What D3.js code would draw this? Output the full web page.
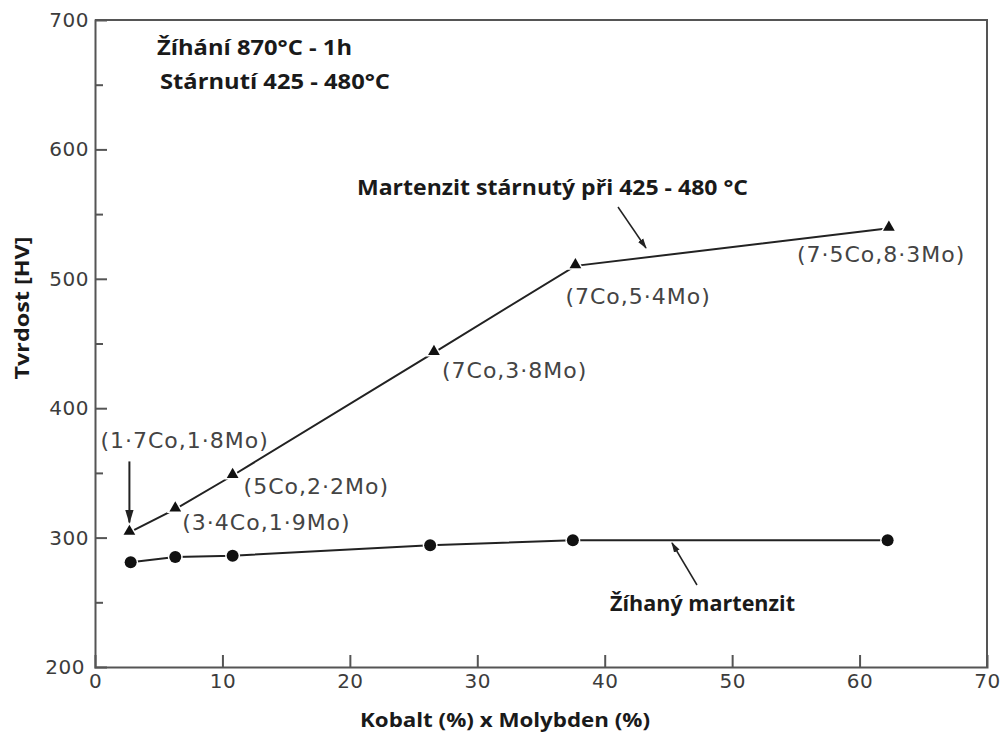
<!DOCTYPE html>
<html>
<head>
<meta charset="utf-8">
<script src="https://cdn.jsdelivr.net/npm/d3@7"></script>
<style>
  body { margin: 0; background: #fff; }
  .tick text { font-family: "DejaVu Sans", sans-serif; font-size: 20px; fill: #3c3c3c; letter-spacing: 0.5px; }
  .tick line { stroke: #555; stroke-width: 2; }
  .domain { stroke: #555; stroke-width: 2; }
  .ptLabel { font-family: "DejaVu Sans", sans-serif; font-size: 22px; fill: #444; letter-spacing: 1px; }
  .note { font-family: "Open Sans", sans-serif; font-weight: bold; font-size: 21px; fill: #1a1a1a; }
</style>
</head>
<body>
<svg class="chart"></svg>
<script>
// values
var xTicks = [0, 10, 20, 30, 40, 50, 60, 70];
var yTicks = [200, 300, 400, 500, 600, 700];
var yMinor = [250, 350, 450, 550, 650];

var agedX = [2.7, 6.3, 10.8, 26.6, 37.7, 62.3];
var agedY = [304, 322, 348, 443, 510, 539];
var agedLabels = ["(1·7Co,1·8Mo)", "(3·4Co,1·9Mo)", "(5Co,2·2Mo)", "(7Co,3·8Mo)", "(7Co,5·4Mo)", "(7·5Co,8·3Mo)"];

var annealX = [2.8, 6.3, 10.8, 26.3, 37.5, 62.2];
var annealY = [281, 285, 286, 294, 298, 298];

// label placement relative to the marker (layout only)
var labelOffsets = [[-29, -84], [7, 21], [11, 19], [8, 25], [-10, 38], [-92, 34]];

var width = 1005, height = 735;
var x = d3.scaleLinear().domain([0, 70]).range([95, 987]);
var y = d3.scaleLinear().domain([200, 700]).range([667, 20]);

var svg = d3.select('.chart').attr("width", width).attr("height", height);

// arrow head
svg.append("defs").append("marker")
   .attr("id", "arrow")
   .attr("viewBox", "0 0 10 10")
   .attr("refX", 9).attr("refY", 5)
   .attr("markerWidth", 7).attr("markerHeight", 7)
   .attr("orient", "auto")
   .append("path").attr("d", "M0,2L10,5L0,8Z").attr("fill", "#222");

// frame (top + right)
svg.append("path")
   .attr("d", "M" + x(0) + "," + y(700) + "H" + x(70) + "V" + y(200))
   .attr("fill", "none").attr("stroke", "#555").attr("stroke-width", 2);

// x axis
svg.append("g")
   .attr("transform", "translate(0," + y(200) + ")")
   .call(d3.axisBottom(x).tickValues(xTicks).tickSize(-12).tickPadding(7).tickFormat(d3.format("d")))
   .call(function(g) { g.selectAll(".tick").filter(function(d) { return d === 0 || d === 70; }).select("line").remove(); });

// y axis
svg.append("g")
   .attr("transform", "translate(" + x(0) + ",0)")
   .call(d3.axisLeft(y).tickValues(yTicks).tickSize(-12).tickPadding(6).tickFormat(d3.format("d")))
   .call(function(g) { g.selectAll(".tick").filter(function(d) { return d === 200 || d === 700; }).select("line").remove(); });

svg.append("g")
   .attr("transform", "translate(" + x(0) + ",0)")
   .call(d3.axisLeft(y).tickValues(yMinor).tickSize(-8).tickFormat(""))
   .call(function(g) { g.select(".domain").remove(); });

svg.selectAll(".tick text").filter(function(d) { return d === 200; }).attr("dx", "-4");

// axis titles
svg.append("text")
   .attr("class", "note")
   .attr("text-anchor", "middle")
   .attr("transform", "translate(29,308) rotate(-90)")
   .attr("textLength", 143).attr("lengthAdjust", "spacingAndGlyphs")
   .style("font-size", "19px")
   .text("Tvrdost [HV]");

svg.append("text")
   .attr("class", "note")
   .attr("x", 360).attr("y", 727)
   .attr("textLength", 290).attr("lengthAdjust", "spacingAndGlyphs")
   .style("font-size", "20px")
   .text("Kobalt (%) x Molybden (%)");

// lines
var aged = agedX.map(function(d, i) { return [d, agedY[i]]; });
var anneal = annealX.map(function(d, i) { return [d, annealY[i]]; });
var line = d3.line().x(function(d) { return x(d[0]); }).y(function(d) { return y(d[1]); });

svg.append("path").datum(aged).attr("d", line)
   .attr("fill", "none").attr("stroke", "#222").attr("stroke-width", 2);
svg.append("path").datum(anneal).attr("d", line)
   .attr("fill", "none").attr("stroke", "#222").attr("stroke-width", 2);

// markers (white halo gives the small gap next to each point)
svg.selectAll(".tri").data(aged).enter().append("path")
   .attr("class", "tri")
   .attr("transform", function(d) { return "translate(" + x(d[0]) + "," + (y(d[1]) - 1) + ")"; })
   .attr("d", d3.symbol().type(d3.symbolTriangle).size(60))
   .attr("fill", "#111").attr("stroke", "#fff").attr("stroke-width", 3).attr("paint-order", "stroke");

svg.selectAll(".dot").data(anneal).enter().append("circle")
   .attr("class", "dot")
   .attr("cx", function(d) { return x(d[0]); })
   .attr("cy", function(d) { return y(d[1]); })
   .attr("r", 6)
   .attr("fill", "#111").attr("stroke", "#fff").attr("stroke-width", 3).attr("paint-order", "stroke");

// point labels
svg.selectAll(".ptLabel").data(aged).enter().append("text")
   .attr("class", "ptLabel")
   .attr("x", function(d, i) { return x(d[0]) + labelOffsets[i][0]; })
   .attr("y", function(d, i) { return y(d[1]) + labelOffsets[i][1]; })
   .text(function(d, i) { return agedLabels[i]; });

// arrow from first label down to first point
svg.append("line")
   .attr("x1", x(agedX[0])).attr("y1", y(agedY[0]) - 71)
   .attr("x2", x(agedX[0])).attr("y2", y(agedY[0]) - 10)
   .attr("stroke", "#222").attr("stroke-width", 2).attr("marker-end", "url(#arrow)");

// annotations
svg.append("text").attr("class", "note").attr("x", 157).attr("y", 55)
   .attr("textLength", 195).attr("lengthAdjust", "spacingAndGlyphs").text("Žíhání 870°C - 1h");
svg.append("text").attr("class", "note").attr("x", 160).attr("y", 89)
   .attr("textLength", 230).attr("lengthAdjust", "spacingAndGlyphs").text("Stárnutí 425 - 480°C");

svg.append("text").attr("class", "note").attr("x", 357).attr("y", 195)
   .attr("textLength", 391).attr("lengthAdjust", "spacingAndGlyphs").text("Martenzit stárnutý při 425 - 480 °C");
svg.append("line")
   .attr("x1", 618).attr("y1", 207).attr("x2", 646).attr("y2", 248)
   .attr("stroke", "#222").attr("stroke-width", 1.5).attr("marker-end", "url(#arrow)");

svg.append("text").attr("class", "note").attr("x", 610).attr("y", 611)
   .attr("textLength", 185).attr("lengthAdjust", "spacingAndGlyphs").text("Žíhaný martenzit");
svg.append("line")
   .attr("x1", 697).attr("y1", 585).attr("x2", 672).attr("y2", 543)
   .attr("stroke", "#222").attr("stroke-width", 1.5).attr("marker-end", "url(#arrow)");
</script>
</body>
</html>
